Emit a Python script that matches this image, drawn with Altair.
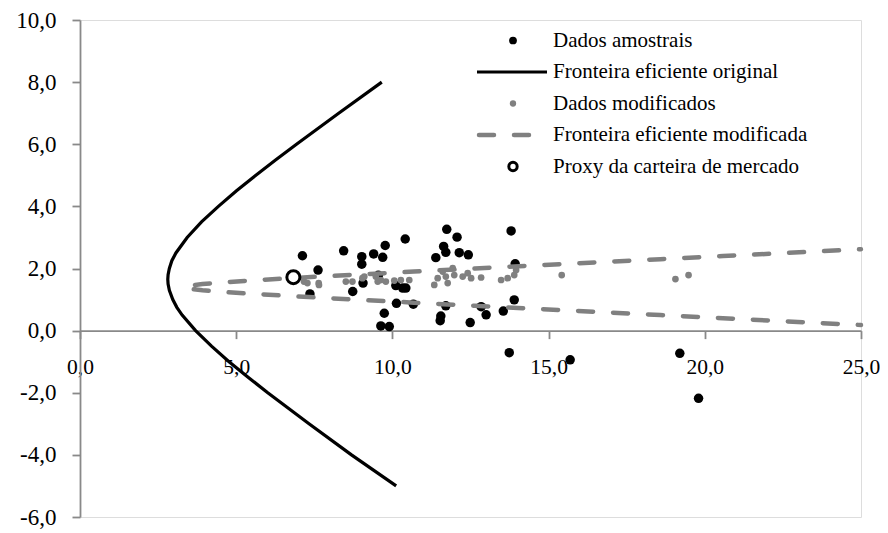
import altair as alt
import pandas as pd

# ---------------- data ----------------
# Dados amostrais (sigma, retorno)
amostra_sigma = [7.12, 7.62, 7.36, 8.44, 9.02, 9.02, 9.40, 9.69, 9.77, 10.41,
                 8.73, 9.06, 9.74, 9.63, 9.90, 10.13, 10.67, 10.11, 10.33, 10.43,
                 11.39, 11.64, 11.71, 11.74, 12.07, 12.14, 12.43, 11.71, 11.55, 11.53,
                 12.49, 12.84, 13.00, 13.55, 13.90, 13.93, 13.80, 13.74, 15.69, 19.20,
                 19.80, 9.55]
amostra_mu = [2.41, 1.95, 1.18, 2.57, 2.38, 2.14, 2.47, 2.36, 2.74, 2.95,
              1.26, 1.53, 0.56, 0.15, 0.13, 0.88, 0.85, 1.45, 1.37, 1.37,
              2.35, 2.71, 2.52, 3.26, 3.01, 2.51, 2.44, 0.80, 0.47, 0.32,
              0.26, 0.77, 0.51, 0.63, 0.99, 2.15, 3.21, -0.71, -0.94, -0.73,
              -2.18, 1.78]

# Dados modificados
mod_sigma = [7.17, 7.28, 7.64, 8.51, 8.72, 9.04, 9.10, 9.47, 9.53, 9.63,
             9.79, 10.06, 10.27, 10.54, 11.34, 11.45, 11.61, 11.71, 11.77, 11.93,
             11.98, 12.25, 12.41, 12.52, 12.84, 13.48, 13.69, 13.90, 13.96, 15.42,
             19.06, 19.48, 7.65]
mod_mu = [1.58, 1.53, 1.53, 1.58, 1.58, 1.69, 1.74, 1.74, 1.58, 1.63,
          1.58, 1.61, 1.63, 1.63, 1.47, 1.69, 1.90, 1.74, 1.53, 2.01,
          1.79, 1.74, 1.85, 1.69, 1.71, 1.63, 1.69, 1.79, 1.95, 1.79,
          1.66, 1.79, 1.47]

# Fronteira eficiente original
front_mu = [8.0, 7.0, 6.0, 5.5, 5.0, 4.5, 4.0, 3.5, 3.0, 2.5, 2.25, 2.0, 1.8, 1.65,
            1.5, 1.3, 1.0, 0.75, 0.5, 0.0, -0.5, -1.0, -1.5, -2.0, -3.0, -4.0, -5.0]
front_sigma = [9.66, 8.28, 6.93, 6.27, 5.63, 5.01, 4.43, 3.89, 3.43, 3.07, 2.94, 2.86, 2.82, 2.81,
               2.82, 2.86, 2.97, 3.10, 3.27, 3.70, 4.21, 4.77, 5.38, 6.01, 7.33, 8.69, 10.12]

# Fronteira eficiente modificada
fmod_mu = [2.62, 2.50, 2.40, 2.30, 2.20, 2.10, 2.00, 1.90, 1.80, 1.70, 1.60, 1.55, 1.50, 1.45,
           1.40, 1.35, 1.30, 1.25, 1.20, 1.10, 1.00, 0.90, 0.80, 0.70, 0.60, 0.50, 0.40, 0.30, 0.18]
fmod_sigma = [25.0, 22.59, 20.58, 18.58, 16.59, 14.60, 12.64, 10.69, 8.79, 6.95, 5.26, 4.53, 3.92, 3.50,
              3.35, 3.50, 3.92, 4.53, 5.26, 6.95, 8.79, 10.69, 12.64, 14.60, 16.59, 18.58, 20.58, 22.59, 25.0]

# Proxy da carteira de mercado
proxy_sigma = [6.83]
proxy_mu = [1.72]

x_ticks = [0, 5, 10, 15, 20, 25]
y_ticks = [-6, -4, -2, 0, 2, 4, 6, 8, 10]

legend_labels = ["Dados amostrais", "Fronteira eficiente original", "Dados modificados",
                 "Fronteira eficiente modificada", "Proxy da carteira de mercado"]

# ---------------- chart ----------------
FONT = "Liberation Serif"
GRAY = "#808080"
AXIS_GRAY = "#898989"
W, H = 781, 497
Y0 = H * 10 / 16  # pixel position of y = 0

label_expr = "(datum.value < 0 ? '-' : '') + replace(format(abs(datum.value), '.1f'), '.', ',')"

xscale = alt.Scale(domain=[0, 25], nice=False, zero=False)
yscale = alt.Scale(domain=[-6, 10], nice=False, zero=False)

xaxis = alt.Axis(values=x_ticks, labelExpr=label_expr, title=None, grid=False,
                 offset=-(H - Y0), domainColor=AXIS_GRAY, domainWidth=1.8,
                 tickColor=AXIS_GRAY, tickWidth=1.8, tickSize=8,
                 labelFont=FONT, labelFontSize=21.5, labelColor="black", labelPadding=18,
                 labelFlush=False)
yaxis = alt.Axis(values=y_ticks, labelExpr=label_expr, title=None, grid=False,
                 domainColor=AXIS_GRAY, domainWidth=1.8,
                 tickColor=AXIS_GRAY, tickWidth=1.8, tickSize=8,
                 labelFont=FONT, labelFontSize=23, labelColor="black", labelPadding=16,
                 labelFlush=False)

df_am = pd.DataFrame({"sigma": amostra_sigma, "mu": amostra_mu})
df_mod = pd.DataFrame({"sigma": mod_sigma, "mu": mod_mu})
df_f = pd.DataFrame({"sigma": front_sigma, "mu": front_mu, "i": list(range(len(front_mu)))})
df_fm = pd.DataFrame({"sigma": fmod_sigma, "mu": fmod_mu, "i": list(range(len(fmod_mu)))})
df_px = pd.DataFrame({"sigma": proxy_sigma, "mu": proxy_mu})

base_x = alt.X("sigma:Q", scale=xscale, axis=xaxis)
base_y = alt.Y("mu:Q", scale=yscale, axis=yaxis)

pts_am = alt.Chart(df_am).mark_circle(size=90, color="black", opacity=1).encode(
    x=base_x, y=base_y)
line_f = alt.Chart(df_f).mark_line(color="black", strokeWidth=3.2).encode(
    x=alt.X("sigma:Q", scale=xscale), y=alt.Y("mu:Q", scale=yscale), order="i:Q")
pts_mod = alt.Chart(df_mod).mark_circle(size=45, color=GRAY, opacity=1).encode(
    x=alt.X("sigma:Q", scale=xscale), y=alt.Y("mu:Q", scale=yscale))
line_fm = alt.Chart(df_fm).mark_line(color=GRAY, strokeWidth=4.5, strokeDash=[15, 20],
                                     strokeDashOffset=13, strokeCap="round").encode(
    x=alt.X("sigma:Q", scale=xscale), y=alt.Y("mu:Q", scale=yscale), order="i:Q")
proxy = alt.Chart(df_px).mark_point(shape="circle", filled=True, fill="white", stroke="black",
                                    strokeWidth=3, size=170, opacity=1).encode(
    x=alt.X("sigma:Q", scale=xscale), y=alt.Y("mu:Q", scale=yscale))

# ---------------- custom legend ----------------
rows_y = [20.5, 52, 83.5, 115, 146.5]
sym_x = 433
line_x1, line_x2 = 397, 467
text_x = 473
one = pd.DataFrame({"k": [0]})

leg_text = alt.Chart(pd.DataFrame({"label": legend_labels, "row": rows_y})).mark_text(
    align="left", baseline="middle", font=FONT, fontSize=21, color="black").encode(
    x=alt.value(text_x), y=alt.Y("row:Q", scale=None), text="label:N")

leg1 = alt.Chart(one).mark_circle(size=60, color="black", opacity=1).encode(
    x=alt.value(sym_x), y=alt.value(rows_y[0]))
leg2 = alt.Chart(one).mark_rule(color="black", strokeWidth=3).encode(
    x=alt.value(line_x1), x2=alt.value(line_x2), y=alt.value(rows_y[1]))
leg3 = alt.Chart(one).mark_circle(size=40, color=GRAY, opacity=1).encode(
    x=alt.value(sym_x), y=alt.value(rows_y[2]))
leg4 = alt.Chart(one).mark_rule(color=GRAY, strokeWidth=4.5, strokeDash=[15, 20],
                                strokeCap="round").encode(
    x=alt.value(line_x1 + 2), x2=alt.value(line_x2), y=alt.value(rows_y[3]))
leg5 = alt.Chart(one).mark_point(shape="circle", filled=True, fill="white", stroke="black",
                                 strokeWidth=3, size=70, opacity=1).encode(
    x=alt.value(sym_x), y=alt.value(rows_y[4]))

chart = alt.layer(
    pts_am, line_f, pts_mod, line_fm, proxy,
    leg_text, leg1, leg2, leg3, leg4, leg5
).properties(
    width=W, height=H,
    autosize=alt.AutoSizeParams(type="none"),
    padding={"left": 72, "top": 12, "right": 19, "bottom": 12},
).configure_view(stroke=None).configure(font=FONT, background="white")

chart.save("out.html", embed_options={"renderer": "svg", "actions": False})
